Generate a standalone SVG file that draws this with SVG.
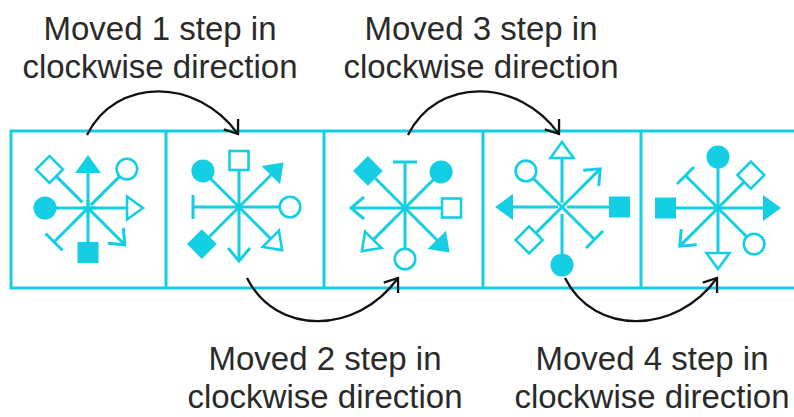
<svg xmlns="http://www.w3.org/2000/svg" xmlns:xlink="http://www.w3.org/1999/xlink" width="794" height="417" viewBox="0 0 794 417">
<style>
.c{stroke:#14CFE3;stroke-width:3;fill:none}
.cf{fill:#14CFE3;stroke:none}
.co{stroke:#14CFE3;stroke-width:2.6;fill:#fff}
.frame{stroke:#14CFE3;stroke-width:3;fill:none}
.arc{stroke:#111;stroke-width:2.3;fill:none}
.lbl{font-family:"Liberation Sans",Arial,sans-serif;font-size:33px;fill:#2a2a2a;text-anchor:middle}
</style>
<defs>
<marker id="ah" markerUnits="userSpaceOnUse" viewBox="-16 -16 32 32" markerWidth="32" markerHeight="32" refX="0" refY="0" orient="auto" overflow="visible">
<path d="M-12.1,-8.8 L0,0 L-12.1,8.8" fill="none" stroke="#111" stroke-width="2.3"/>
</marker>
<g id="A"><line class="c" x1="0" y1="0" x2="0" y2="-46"/><polygon class="cf" points="0,-63 13,-45 -13,-45"/></g>
<g id="OT"><line class="c" x1="0" y1="0" x2="0" y2="-45"/><polygon class="co" points="0,-61 11.5,-45 -11.5,-45"/></g>
<g id="OC"><line class="c" x1="0" y1="0" x2="0" y2="-40"/><circle class="co" cx="0" cy="-51" r="10.3"/></g>
<g id="FC"><line class="c" x1="0" y1="0" x2="0" y2="-40"/><circle class="cf" cx="0" cy="-51" r="11.5"/></g>
<g id="FS"><line class="c" x1="0" y1="0" x2="0" y2="-42"/><rect class="cf" x="-10.5" y="-63" width="21" height="21"/></g>
<g id="OD"><line class="c" x1="0" y1="0" x2="0" y2="-37"/><rect class="co" x="-9.5" y="-56" width="19" height="19"/></g>
<g id="T"><line class="c" x1="0" y1="0" x2="0" y2="-46"/><line class="c" x1="-12" y1="-46" x2="12" y2="-46"/></g>
<g id="V"><line class="c" x1="0" y1="0" x2="0" y2="-54"/><polyline class="c" points="-11,-41 0,-54 11,-41"/></g>
</defs>
<rect width="794" height="417" fill="#fff"/>
<g id="strip">
<rect class="frame" x="11" y="131" width="800" height="157"/>
<line class="frame" x1="166" y1="131" x2="166" y2="288"/>
<line class="frame" x1="324" y1="131" x2="324" y2="288"/>
<line class="frame" x1="483" y1="131" x2="483" y2="288"/>
<line class="frame" x1="641" y1="131" x2="641" y2="288"/>
</g>
<g id="panel1" transform="translate(88,208)">
<use xlink:href="#A" transform="rotate(0) translate(0,10)"/>
<use xlink:href="#OC" transform="rotate(45) translate(0,-4)"/>
<use xlink:href="#OT" transform="rotate(90) translate(0,6)"/>
<use xlink:href="#V" transform="rotate(135) translate(0,2)"/>
<use xlink:href="#FS" transform="rotate(180) translate(0,8)"/>
<use xlink:href="#T" transform="rotate(225) translate(0,-2)"/>
<use xlink:href="#FC" transform="rotate(270) translate(0,8)"/>
<use xlink:href="#OD" transform="rotate(315) translate(0,-8)"/>
</g>
<g id="panel2" transform="translate(239,207)">
<use xlink:href="#OD" transform="rotate(0)"/>
<use xlink:href="#A" transform="rotate(45)"/>
<use xlink:href="#OC" transform="rotate(90)"/>
<use xlink:href="#OT" transform="rotate(135)"/>
<use xlink:href="#V" transform="rotate(180)"/>
<use xlink:href="#FS" transform="rotate(225)"/>
<use xlink:href="#T" transform="rotate(270)"/>
<use xlink:href="#FC" transform="rotate(315)"/>
</g>
<g id="panel3" transform="translate(405,208)">
<use xlink:href="#T" transform="rotate(0)"/>
<use xlink:href="#FC" transform="rotate(45)"/>
<use xlink:href="#OD" transform="rotate(90)"/>
<use xlink:href="#A" transform="rotate(135)"/>
<use xlink:href="#OC" transform="rotate(180)"/>
<use xlink:href="#OT" transform="rotate(225)"/>
<use xlink:href="#V" transform="rotate(270)"/>
<use xlink:href="#FS" transform="rotate(315)"/>
</g>
<g id="panel4" transform="translate(562,207)">
<use xlink:href="#OT" transform="rotate(0) translate(0,-4)"/>
<use xlink:href="#V" transform="rotate(45)"/>
<use xlink:href="#FS" transform="rotate(90) translate(0,-5)"/>
<use xlink:href="#T" transform="rotate(135)"/>
<use xlink:href="#FC" transform="rotate(180) translate(0,-7)"/>
<use xlink:href="#OD" transform="rotate(225)"/>
<use xlink:href="#A" transform="rotate(270) translate(0,-4)"/>
<use xlink:href="#OC" transform="rotate(315)"/>
</g>
<g id="panel5" transform="translate(718,208)">
<use xlink:href="#FC" transform="rotate(0)"/>
<use xlink:href="#OD" transform="rotate(45)"/>
<use xlink:href="#A" transform="rotate(90)"/>
<use xlink:href="#OC" transform="rotate(135)"/>
<use xlink:href="#OT" transform="rotate(180)"/>
<use xlink:href="#V" transform="rotate(225)"/>
<use xlink:href="#FS" transform="rotate(270)"/>
<use xlink:href="#T" transform="rotate(315)"/>
</g>
<g id="connectors">
<path class="arc" d="M87,135 C116,77 197,77 238,134" marker-end="url(#ah)"/>
<path class="arc" d="M247,278 C276,336 357,335 398,278" marker-end="url(#ah)"/>
<path class="arc" d="M408,135 C437,77 518,77 559,134" marker-end="url(#ah)"/>
<path class="arc" d="M565,278 C594,336 676,335 717,278" marker-end="url(#ah)"/>
</g>
<g id="labels">
<text class="lbl" x="160" y="40">Moved 1 step in</text>
<text class="lbl" x="160" y="78">clockwise direction</text>
<text class="lbl" x="481" y="40">Moved 3 step in</text>
<text class="lbl" x="481" y="78">clockwise direction</text>
<text class="lbl" x="325" y="370">Moved 2 step in</text>
<text class="lbl" x="325" y="408">clockwise direction</text>
<text class="lbl" x="652" y="370">Moved 4 step in</text>
<text class="lbl" x="652" y="408">clockwise direction</text>
</g>
</svg>
